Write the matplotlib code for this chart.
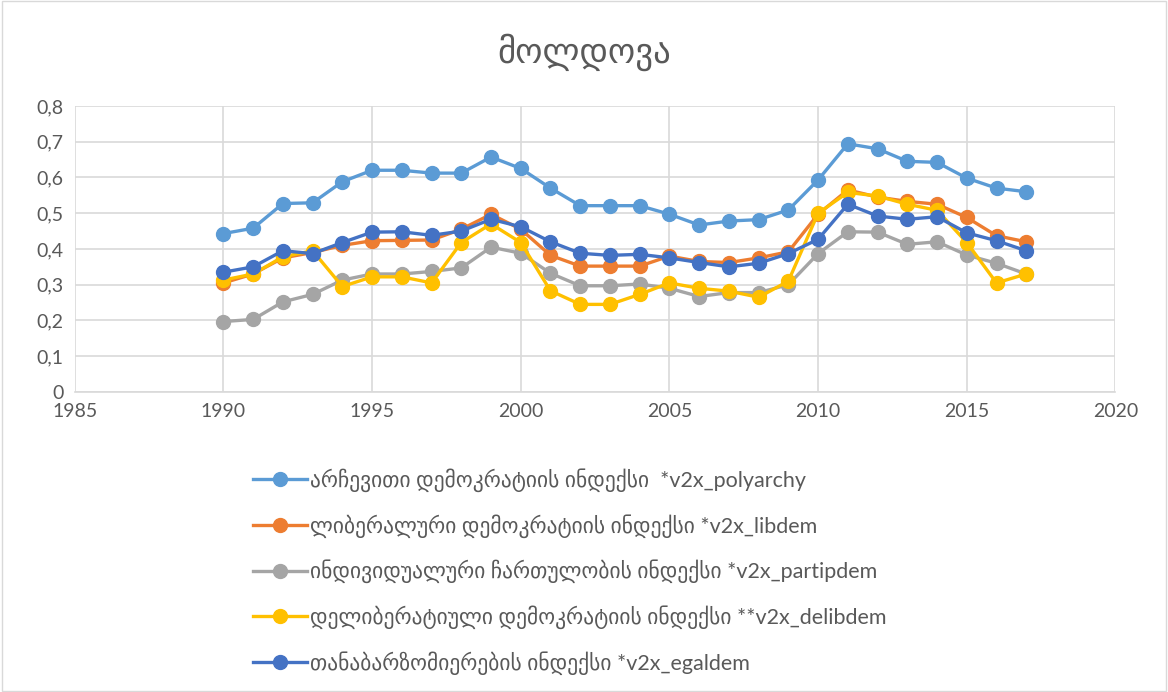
import numpy as np
import matplotlib
matplotlib.use('Agg')
import matplotlib.pyplot as plt
from matplotlib.patches import Rectangle

plt.rcParams['font.family'] = ['Lato', 'DejaVu Sans']

years = list(range(1990, 2018))

polyarchy = [0.443, 0.458, 0.527, 0.529, 0.588, 0.620, 0.620, 0.612, 0.612, 0.657,
             0.625, 0.570, 0.521, 0.521, 0.521, 0.497, 0.467, 0.478, 0.482, 0.509,
             0.593, 0.694, 0.680, 0.645, 0.642, 0.598, 0.570, 0.560]
libdem = [0.305, 0.330, 0.375, 0.390, 0.410, 0.423, 0.424, 0.425, 0.455, 0.497,
          0.455, 0.382, 0.352, 0.352, 0.352, 0.380, 0.365, 0.362, 0.375, 0.392,
          0.497, 0.565, 0.545, 0.533, 0.525, 0.488, 0.437, 0.420]
partipdem = [0.197, 0.203, 0.252, 0.273, 0.313, 0.330, 0.330, 0.337, 0.347, 0.405,
             0.388, 0.332, 0.297, 0.297, 0.302, 0.290, 0.267, 0.278, 0.278, 0.300,
             0.387, 0.448, 0.447, 0.413, 0.420, 0.383, 0.360, 0.330]
delibdem = [0.313, 0.330, 0.378, 0.395, 0.295, 0.322, 0.322, 0.305, 0.418, 0.470,
            0.418, 0.283, 0.245, 0.245, 0.273, 0.305, 0.290, 0.282, 0.265, 0.310,
            0.500, 0.558, 0.548, 0.525, 0.508, 0.418, 0.305, 0.330]
egaldem = [0.335, 0.350, 0.395, 0.387, 0.418, 0.447, 0.448, 0.438, 0.450, 0.483,
           0.462, 0.420, 0.388, 0.382, 0.385, 0.375, 0.362, 0.350, 0.360, 0.387,
           0.427, 0.525, 0.492, 0.483, 0.490, 0.445, 0.423, 0.395]

labels = ['არჩევითი დემოკრატიის ინდექსი  *v2x_polyarchy',
          'ლიბერალური დემოკრატიის ინდექსი *v2x_libdem',
          'ინდივიდუალური ჩართულობის ინდექსი *v2x_partipdem',
          'დელიბერატიული დემოკრატიის ინდექსი **v2x_delibdem',
          'თანაბარზომიერების ინდექსი *v2x_egaldem']
colors = ['#5B9BD5', '#ED7D31', '#A5A5A5', '#FFC000', '#4472C4']
series = [polyarchy, libdem, partipdem, delibdem, egaldem]

text_color = '#595959'

fig = plt.figure(figsize=(11.68, 6.92), dpi=100)
ax = fig.add_axes([0.064, 0.4335, 0.891, 0.4135])

for vals, col, lab in zip(series, colors, labels):
    ax.plot(years, vals, color=col, lw=2.4, marker='o', markersize=10, label=lab)

ax.set_xlim(1985, 2020)
ax.set_ylim(0, 0.8)
ax.set_xticks(np.arange(1985, 2021, 5))
ax.set_yticks(np.arange(0, 0.81, 0.1))
ax.set_yticklabels(['0'] + [('%.1f' % v).replace('.', ',') for v in np.arange(0.1, 0.81, 0.1)])
ax.grid(True, color='#D9D9D9', lw=1.2)
ax.set_axisbelow(True)
for s in ['left', 'right', 'top']:
    ax.spines[s].set_visible(False)
ax.spines['bottom'].set_color('#D9D9D9')
ax.spines['bottom'].set_linewidth(1.2)
ax.tick_params(length=0, labelsize=14, colors=text_color, pad=8)

fig.text(0.5, 0.925, 'მოლდოვა', ha='center', va='center', fontsize=25,
         color=text_color, family=['DejaVu Sans'])

leg = fig.legend(loc='upper left', bbox_to_anchor=(0.209, 0.336), frameon=False,
                 fontsize=15.5, labelcolor=text_color, handlelength=2.5,
                 handletextpad=0.15, labelspacing=1.02, borderaxespad=0)

fig.patches.append(Rectangle((0.002, 0.002), 0.996, 0.996, transform=fig.transFigure,
                             fill=False, edgecolor='#D9D9D9', lw=1))

fig.savefig('out.png', dpi=100)
